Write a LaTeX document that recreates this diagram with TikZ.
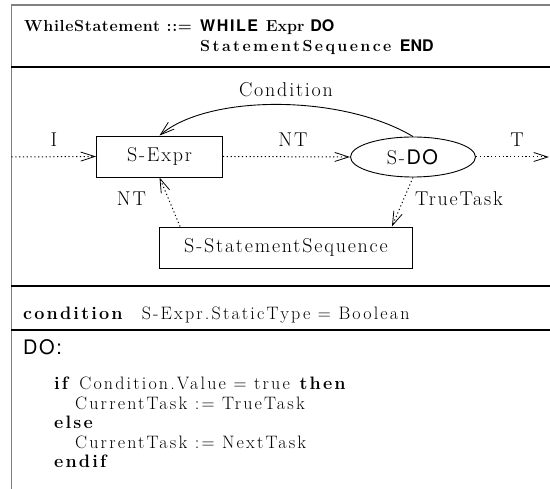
\documentclass[tikz,border=0pt]{standalone}
\usepackage{fontspec}
\setmainfont{Latin Modern Roman}
\setsansfont{TeX Gyre Heros}
\usetikzlibrary{calc,arrows.meta,shapes.geometric}
\newcommand\spaced[1]{\addfontfeature{LetterSpace=#1}}
\tikzset{
  box/.style={draw, line width=0.9pt, inner sep=0pt, font=\fontsize{20}{24}\selectfont\spaced{9}},
  flow/.style={line width=1pt, dash pattern=on 1.2pt off 2.6pt,
    -{Straight Barb[length=14pt,width=9pt,line width=0.8pt]}},
  cond/.style={line width=0.9pt, -{Straight Barb[length=14pt,width=9pt,line width=0.8pt]}},
  lbl/.style={font=\fontsize{20}{24}\selectfont\spaced{9}},
  rule/.style={line width=1.1pt},
  hdr/.style={anchor=base west, inner sep=0pt, font=\fontsize{16}{19}\selectfont\bfseries},
  codeline/.style={anchor=base west, inner sep=0pt, font=\fontsize{18}{21}\selectfont\spaced{12}},
}
\begin{document}
\begin{tikzpicture}[x=1pt,y=-1pt]
  %%%%% FRAME %%%%%
  \useasboundingbox (0,0) rectangle (550,489);
  \draw[line width=1.4pt, black!50] (11.5,489) -- (11.5,5) -- (550,5);
  \draw[rule] (11,67) -- (550,67);
  \draw[rule] (11,286) -- (550,286);
  \draw[rule] (11,330) -- (550,330);

  %%%%% HEADER %%%%%
  \node[hdr] (hdrl) at (24,32) {\spaced{4}WhileStatement ::=};
  \node[hdr] (prod) at (200,32) {\textsf{\spaced{10}WHILE} Expr \textsf{DO}};
  \node[hdr] (prodb) at (200,52) {{\spaced{15}StatementSequence} \textsf{END}};

  %%%%% TASKS %%%%%
  \node[box, minimum width=126pt, minimum height=41pt] (sexpr) at (159.5,156.5) {S-Expr};
  \node[box, ellipse, minimum width=125pt, minimum height=40pt] (sdo) at (413,157) {S-\textsf{\spaced{6}DO}};
  \node[box, minimum width=253pt, minimum height=41pt] (sseq) at (286,247.5) {S-StatementSequence};

  \coordinate (in) at (11.5,157);
  \coordinate (out) at (549,157);

  \draw[flow] (in) -- (sexpr.west);
  \draw[flow] (sexpr.east) -- (sdo.west);
  \draw[flow] (sdo.east) -- (out);
  \draw[flow] ($(sseq.north west)+(21,0)$) -- (sexpr.south);
  \draw[flow] (sdo.south) -- ($(sseq.north east)+(-21,0)$);
  \draw[cond] (sdo.north) .. controls +(-70,-42) and +(50,-42) .. (sexpr.north);

  \node[lbl] (lcond) at (286,90) {Condition};
  \node[lbl] (li) at (54,140) {I};
  \node[lbl] (lnt) at (293,140) {NT};
  \node[lbl] (lt) at (517,140) {T};
  \node[lbl] (lntb) at (131.5,199) {NT};
  \node[lbl] (ltrue) at (459,199) {TrueTask};

  %%%%% CONDITION %%%%%
  \node[codeline, font=\fontsize{18}{21}\selectfont\spaced{12}] (cnd) at (23,320)
    {\textbf{condition}\hspace{17pt}S-Expr.StaticType = Boolean};

  %%%%% DO %%%%%
  \node[anchor=base west, inner sep=0pt, font=\sffamily\fontsize{20}{24}\selectfont\spaced{8}] (dolbl) at (23,355) {DO:};
  \node[codeline] (ca) at (54,390) {\textbf{if} Condition.Value = true \textbf{then}};
  \node[codeline] (cb) at (75,409.5) {CurrentTask := TrueTask};
  \node[codeline] (cc) at (54,429) {\textbf{else}};
  \node[codeline] (cd) at (75,448.5) {CurrentTask := NextTask};
  \node[codeline] (ce) at (54,468) {\textbf{endif}};
\end{tikzpicture}
\end{document}
